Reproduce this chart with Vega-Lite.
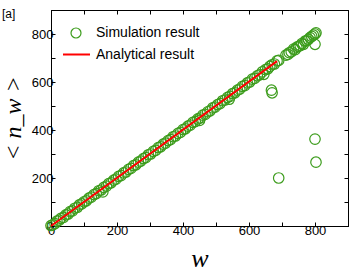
{
  "$schema": "https://vega.github.io/schema/vega-lite/v6.json",
  "width": 297,
  "height": 216,
  "autosize": "none",
  "padding": {"left": 51, "top": 10, "right": 7, "bottom": 46},
  "background": "white",
  "title": {"text": "[a]", "anchor": "start", "frame": "group", "orient": "top", "baseline": "top", "offset": 0, "dx": -49, "dy": 11, "fontSize": 12, "font": "Liberation Sans", "fontWeight": "normal", "color": "black"},
  "config": {
    "view": {"stroke": "black", "strokeWidth": 1},
    "axis": {"grid": false, "domainColor": "black", "tickColor": "black", "labelColor": "black", "labelFont": "Liberation Sans", "labelFontSize": 13, "titleColor": "black"}
  },
  "datasets": {
    "sim": [
      {"w":0,"n":2},{"w":5,"n":5},{"w":12,"n":10},{"w":18,"n":20},{"w":25,"n":24},{"w":30,"n":32},{"w":38,"n":36},{"w":45,"n":46},{"w":52,"n":50},{"w":58,"n":60},{"w":65,"n":63},{"w":72,"n":74},{"w":80,"n":78},{"w":86,"n":88},{"w":93,"n":92},{"w":100,"n":101},{"w":107,"n":105},{"w":115,"n":116},{"w":122,"n":120},{"w":130,"n":131},{"w":137,"n":135},{"w":145,"n":147},{"w":152,"n":150},{"w":157,"n":142},{"w":160,"n":161},{"w":168,"n":166},{"w":175,"n":177},{"w":182,"n":180},{"w":190,"n":191},{"w":197,"n":195},{"w":205,"n":207},{"w":212,"n":210},{"w":220,"n":221},{"w":227,"n":225},{"w":235,"n":236},{"w":242,"n":240},{"w":250,"n":252},{"w":257,"n":255},{"w":265,"n":266},{"w":272,"n":270},{"w":280,"n":281},{"w":287,"n":285},{"w":295,"n":297},{"w":302,"n":300},{"w":310,"n":311},{"w":317,"n":315},{"w":325,"n":327},{"w":332,"n":330},{"w":340,"n":341},{"w":347,"n":345},{"w":355,"n":356},{"w":362,"n":360},{"w":370,"n":372},{"w":377,"n":375},{"w":385,"n":386},{"w":392,"n":390},{"w":400,"n":402},{"w":407,"n":405},{"w":415,"n":416},{"w":422,"n":420},{"w":430,"n":432},{"w":437,"n":435},{"w":445,"n":446},{"w":450,"n":440},{"w":452,"n":450},{"w":460,"n":462},{"w":467,"n":465},{"w":475,"n":476},{"w":482,"n":480},{"w":490,"n":492},{"w":497,"n":495},{"w":505,"n":506},{"w":512,"n":510},{"w":520,"n":522},{"w":527,"n":525},{"w":535,"n":536},{"w":540,"n":528},{"w":542,"n":540},{"w":550,"n":552},{"w":557,"n":555},{"w":565,"n":566},{"w":572,"n":570},{"w":580,"n":582},{"w":587,"n":585},{"w":595,"n":596},{"w":602,"n":600},{"w":610,"n":612},{"w":617,"n":615},{"w":625,"n":626},{"w":632,"n":630},{"w":640,"n":642},{"w":645,"n":632},{"w":650,"n":652},{"w":657,"n":655},{"w":663,"n":665},{"w":670,"n":672},{"w":677,"n":675},{"w":685,"n":688},{"w":690,"n":690},
      {"w":712,"n":712},{"w":718,"n":715},{"w":722,"n":722},{"w":728,"n":726},{"w":735,"n":737},{"w":740,"n":735},{"w":745,"n":745},{"w":750,"n":748},{"w":755,"n":752},{"w":760,"n":760},{"w":765,"n":757},{"w":770,"n":770},{"w":775,"n":772},{"w":780,"n":778},{"w":785,"n":785},{"w":790,"n":790},{"w":795,"n":795},{"w":800,"n":800},{"w":803,"n":805},{"w":800,"n":757},
      {"w":668,"n":566},{"w":670,"n":555},{"w":690,"n":200},{"w":800,"n":362},{"w":803,"n":266}
    ],
    "ana": [{"w":0,"n":0},{"w":685,"n":687}]
  },
  "layer": [
    {
      "data": {"name": "sim"},
      "transform": [{"calculate": "'Simulation result'", "as": "series"}],
      "mark": {"type": "point", "shape": "circle", "filled": false, "size": 110, "strokeWidth": 1.2, "opacity": 1},
      "encoding": {
        "x": {"field": "w", "type": "quantitative", "scale": {"domain": [0, 900], "nice": false, "zero": false},
          "axis": {"orient": "bottom", "values": [0,100,200,300,400,500,600,700,800,900], "labelExpr": "datum.value % 200 === 0 && datum.value < 900 ? datum.label : ''", "tickSize": -4, "labelPadding": 2, "labelFlush": false,
            "title": "w", "titleFont": "Liberation Serif", "titleFontStyle": "italic", "titleFontWeight": "normal", "titleFontSize": 26, "titlePadding": 8}},
        "y": {"field": "n", "type": "quantitative", "scale": {"domain": [0, 900], "nice": false, "zero": false},
          "axis": {"orient": "left", "values": [0,100,200,300,400,500,600,700,800,900], "labelExpr": "datum.value % 200 === 0 && datum.value < 900 ? datum.label : ''", "tickSize": -4, "labelPadding": 2, "labelFlush": false,
            "title": "< n_w >", "titleFont": "Liberation Serif", "titleFontStyle": "italic", "titleFontWeight": "normal", "titleFontSize": 24, "titlePadding": 6}},
        "color": {"field": "series", "type": "nominal",
          "scale": {"domain": ["Simulation result"], "range": ["#3c9c1c"]},
          "legend": {"orient": "none", "legendX": 18, "legendY": 16, "title": null, "labelFont": "Liberation Sans", "labelFontSize": 14, "labelColor": "black", "symbolSize": 100, "symbolStrokeWidth": 1.2, "labelOffset": 13}}
      }
    },
    {
      "data": {"name": "ana"},
      "transform": [{"calculate": "'Analytical result'", "as": "series"}],
      "mark": {"type": "line", "strokeWidth": 2},
      "encoding": {
        "x": {"field": "w", "type": "quantitative", "axis": {"orient": "top", "values": [0,100,200,300,400,500,600,700,800,900], "labels": false, "tickSize": -4, "title": null}},
        "y": {"field": "n", "type": "quantitative", "axis": {"orient": "right", "values": [0,100,200,300,400,500,600,700,800,900], "labels": false, "tickSize": -4, "title": null}},
        "stroke": {"field": "series", "type": "nominal",
          "scale": {"domain": ["Analytical result"], "range": ["#ff0000"]},
          "legend": {"orient": "none", "legendX": 11, "legendY": 30, "title": null, "labelFont": "Liberation Sans", "labelFontSize": 14, "labelColor": "black", "symbolType": "stroke", "symbolSize": 729, "symbolStrokeWidth": 2, "labelOffset": 5}}
      }
    }
  ],
  "resolve": {"axis": {"x": "independent", "y": "independent"}}
}
